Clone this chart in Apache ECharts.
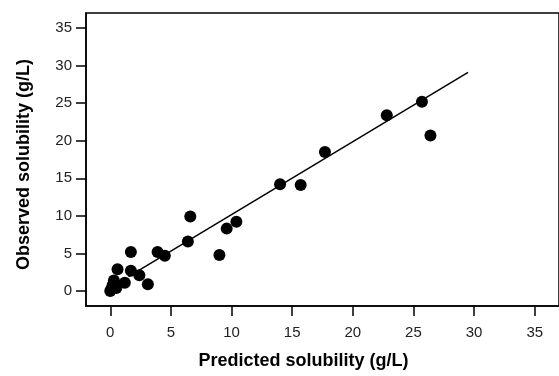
<!DOCTYPE html>
<html>
<head>
<meta charset="utf-8">
<script src="https://cdn.jsdelivr.net/npm/echarts@6/dist/echarts.min.js"></script>
<style>html,body{margin:0;padding:0;background:#fff}#c{width:559px;height:376px}</style>
</head>
<body>
<div id="c"></div>
<script>
// Predicted (x) and observed (y) solubility, g/L
const predicted = [0.0, 0.1, 0.3, 0.5, 0.2, 0.6, 1.2, 1.7, 1.7, 2.4, 3.1, 3.9, 4.5, 6.4, 6.6, 9.0, 9.6, 10.4, 14.0, 15.7, 17.7, 22.8, 25.7, 26.4];
const observed  = [0.0, 0.3, 1.4, 0.4, 0.8, 2.9, 1.1, 5.2, 2.7, 2.1, 0.9, 5.2, 4.7, 6.6, 9.9, 4.8, 8.3, 9.2, 14.2, 14.1, 18.5, 23.4, 25.2, 20.7];
// Fitted regression line end points
const fitX = [1.5, 29.5];
const fitY = [1.9, 29.1];
const xTicks = [0, 5, 10, 15, 20, 25, 30, 35];
const yTicks = [0, 5, 10, 15, 20, 25, 30, 35];

const chart = echarts.init(document.getElementById('c'), null, {renderer: 'canvas'});
const font = 'Liberation Sans, Arial, Helvetica, sans-serif';
chart.setOption({
  animation: false,
  backgroundColor: '#fff',
  grid: {left: 86, top: 13, width: 474, height: 293, show: true, borderColor: '#000', borderWidth: 1.5, backgroundColor: 'transparent'},
  xAxis: {
    type: 'value', min: -2, max: 37,
    name: 'Predicted solubility (g/L)', nameLocation: 'middle', nameGap: 46,
    nameTextStyle: {fontFamily: font, fontSize: 18, fontWeight: 'bold', color: '#000', padding: [0, 38, 0, 0]},
    axisLine: {show: true, onZero: false, lineStyle: {color: '#000', width: 1.5}},
    axisTick: {show: true, inside: false, length: 10, lineStyle: {color: '#000', width: 1.5}, customValues: xTicks},
    axisLabel: {margin: 19, fontFamily: font, fontSize: 15, color: '#222', customValues: xTicks},
    splitLine: {show: false}
  },
  yAxis: {
    type: 'value', min: -2, max: 37,
    name: 'Observed solubility (g/L)', nameLocation: 'middle', nameGap: 53,
    nameTextStyle: {fontFamily: font, fontSize: 18, fontWeight: 'bold', color: '#000', padding: [0, 10, 0, 0]},
    axisLine: {show: true, onZero: false, lineStyle: {color: '#000', width: 1.5}},
    axisTick: {show: true, inside: false, length: 10, lineStyle: {color: '#000', width: 1.5}, customValues: yTicks},
    axisLabel: {margin: 14, fontFamily: font, fontSize: 15, color: '#222', customValues: yTicks},
    splitLine: {show: false}
  },
  series: [
    {
      type: 'line', data: fitX.map((x, i) => [x, fitY[i]]),
      showSymbol: false, symbol: 'none',
      lineStyle: {color: '#000', width: 1.5}, z: 1
    },
    {
      type: 'scatter', data: predicted.map((x, i) => [x, observed[i]]),
      symbol: 'circle', symbolSize: 12,
      itemStyle: {color: '#000', opacity: 1}, z: 2
    }
  ]
});
</script>
</body>
</html>
